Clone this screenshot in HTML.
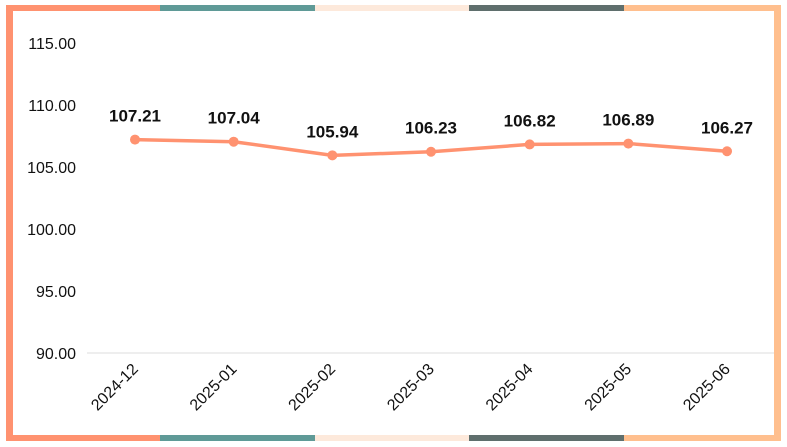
<!DOCTYPE html>
<html><head><meta charset="utf-8"><style>
body{margin:0;background:#fff;}
svg{display:block;font-family:"Liberation Sans",sans-serif;}
</style></head><body>
<svg width="787" height="447">
<g>
<rect x="6" y="5" width="154" height="6" fill="#FF9270"/>
<rect x="160" y="5" width="155" height="6" fill="#5F9A97"/>
<rect x="315" y="5" width="154" height="6" fill="#FDE9DB"/>
<rect x="469" y="5" width="155" height="6" fill="#5F6F6D"/>
<rect x="624" y="5" width="157" height="6" fill="#FFBF8E"/>
<rect x="6" y="435" width="154" height="6" fill="#FF9270"/>
<rect x="160" y="435" width="155" height="6" fill="#5F9A97"/>
<rect x="315" y="435" width="154" height="6" fill="#FDE9DB"/>
<rect x="469" y="435" width="155" height="6" fill="#5F6F6D"/>
<rect x="624" y="435" width="157" height="6" fill="#FFBF8E"/>
<rect x="6" y="5" width="7" height="436" fill="#FF9270"/>
<rect x="774" y="5" width="7" height="436" fill="#FFBF8E"/>
</g>
<g id="yaxis"></g>
<g id="xaxis"></g>
<g id="series"></g>
</svg>
<script>
const categories=["2024-12","2025-01","2025-02","2025-03","2025-04","2025-05","2025-06"];
const values=[107.21,107.04,105.94,106.23,106.82,106.89,106.27];
const yTicks=[90,95,100,105,110,115];
const NS="http://www.w3.org/2000/svg";
function yS(v){return 353-(v-90)*12.4;}
function xS(i){return 135+i*98.67;}
function mk(t,a,p){const e=document.createElementNS(NS,t);for(const k in a)e.setAttribute(k,a[k]);p.appendChild(e);return e;}
const ya=document.getElementById('yaxis'),xa=document.getElementById('xaxis'),se=document.getElementById('series');
const base=mk('line',{x1:87,x2:774,y1:yS(90),y2:yS(90),stroke:'#dcdcdc','stroke-width':1},ya);


yTicks.forEach(v=>{const t=mk('text',{x:76,y:yS(v)+6,'text-anchor':'end','font-size':16,fill:'#111'},ya);


t.textContent=v.toFixed(2);});
categories.forEach((c,i)=>{const x=xS(i)+4,y=370;const t=mk('text',{x:x,y:y,'text-anchor':'end','font-size':16,fill:'#111',transform:`rotate(-45 ${x} ${y})`},xa);


t.textContent=c;});
const pts=values.map((v,i)=>xS(i)+','+yS(v)).join(' ');
const pl=mk('polyline',{points:pts,fill:'none',stroke:'#FF9270','stroke-width':3.5,'stroke-linejoin':'round'},se);


values.forEach((v,i)=>{const c=mk('circle',{cx:xS(i),cy:yS(v),r:5,fill:'#FF9270'},se);


const t=mk('text',{x:xS(i),y:yS(v)-18,'text-anchor':'middle','font-size':17,'font-weight':'bold',fill:'#111'},se);


t.textContent=v.toFixed(2);});
</script>
</body></html>
